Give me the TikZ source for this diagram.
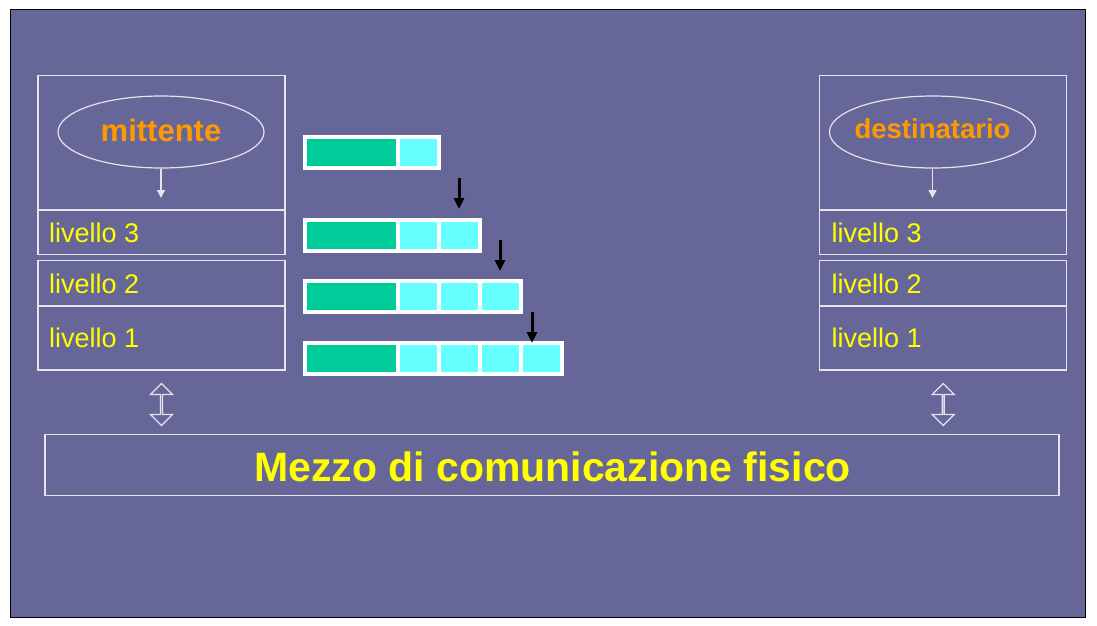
\documentclass[tikz,border=0pt]{standalone}
\usepackage{fontspec}
\setmainfont{Liberation Sans}
\usepackage{xcolor}
\usepackage{tikz}
\usetikzlibrary{arrows.meta, positioning, shapes.geometric, shapes.arrows}
\definecolor{slideBg}{RGB}{102, 102, 153}
\definecolor{frameGray}{RGB}{228, 228, 236}
\definecolor{dataGreen}{RGB}{0, 204, 153}
\definecolor{headCyan}{RGB}{102, 255, 255}
\definecolor{peerOrange}{RGB}{255, 153, 0}
\definecolor{layerYellow}{RGB}{255, 255, 0}

\tikzset{
    layerbox/.style={draw=frameGray, line width=1.4pt},
    layertext/.style={anchor=west, inner sep=0pt, text=layerYellow, font=\fontsize{27}{30}\selectfont},
    peer/.style={ellipse, draw=frameGray, line width=1.2pt, minimum width=206pt, minimum height=72pt, inner sep=0pt},
    peertext/.style={inner sep=0pt, text=peerOrange, font=\bfseries\fontsize{#1}{32}\selectfont},
    downlink/.style={-{Triangle[width=8pt, length=8pt]}, draw=frameGray, fill=frameGray, line width=1.3pt},
    cellbox/.style={draw=white, line width=3.5pt, minimum height=31pt, inner sep=0pt, outer sep=0pt, anchor=north west},
    encap/.style={-{Triangle[width=10pt, length=11pt]}, black, line width=3pt},
    updown/.style={double arrow, draw=frameGray, fill=slideBg, line width=1.3pt, rotate=90, minimum height=42pt, minimum width=22pt, double arrow head extend=7pt, inner sep=0pt}
}

\begin{document}
\begin{tikzpicture}[x=1pt, y=-1pt]
    \useasboundingbox (0,0) rectangle (1097,625);
    % Slide
    \fill[white] (0,0) rectangle (1097,625);
    \draw[fill=slideBg, draw=black, line width=1.5pt] (10.5,9.5) rectangle (1085.5,617.5);

    % Sender stack
    \draw[layerbox] (38,75.5) rectangle (285,210);
    \draw[layerbox] (38,210) rectangle (285,254.5);
    \draw[layerbox] (38,260.5) rectangle (285,306);
    \draw[layerbox] (38,306) rectangle (285,370);
    \node[peer] (mitt) at (161,132) {};
    \node[peertext=31] (mittText) at (161,130) {mittente};
    \coordinate (mittEnd) at (161,198);
    \draw[downlink] (mitt) -- (mittEnd);
    \node[layertext] (mitt3) at (49,233) {livello 3};
    \node[layertext] (mitt2) at (49,284) {livello 2};
    \node[layertext] (mitt1) at (49,337.5) {livello 1};

    % Receiver stack
    \draw[layerbox] (819.5,75.5) rectangle (1066.5,210);
    \draw[layerbox] (819.5,210) rectangle (1066.5,254.5);
    \draw[layerbox] (819.5,260.5) rectangle (1066.5,306);
    \draw[layerbox] (819.5,306) rectangle (1066.5,370);
    \node[peer] (dest) at (932.5,132) {};
    \node[peertext=27.5] (destText) at (932.5,128.5) {destinatario};
    \coordinate (destEnd) at (932.5,198);
    \draw[downlink] (dest) -- (destEnd);
    \node[layertext] (dest3) at (831.5,233) {livello 3};
    \node[layertext] (dest2) at (831.5,284) {livello 2};
    \node[layertext] (dest1) at (831.5,337.5) {livello 1};

    % Physical medium
    \node[draw=frameGray, line width=1.4pt, minimum width=1014pt, minimum height=60.5pt, inner sep=0pt] (medium) at (552,465) {};
    \node[text=layerYellow, inner sep=0pt, font=\bfseries\fontsize{41}{44}\selectfont] (mediumText) at (552.5,466.5) {Mezzo di comunicazione fisico};
    \node[updown] (mittLink) at (161.5,404.5) {};
    \node[updown] (destLink) at (943.3,404.5) {};

    % Packets: data plus one header per layer
    \foreach \r/\ty in {1/137, 2/220, 3/281, 4/343} {
        \node[cellbox, fill=dataGreen, minimum width=93pt] (p\r0) at (305,\ty) {};
        \foreach \c in {1,...,\r} {
            \node[cellbox, fill=headCyan, minimum width=41pt] (p\r\c) at ({398+41*(\c-1)},\ty) {};
        }
    }

    % Header added at each step
    \foreach \i/\ax/\ay in {1/459/178, 2/500/240, 3/532/312} {
        \coordinate (step\i Top) at (\ax,\ay);
        \coordinate (step\i Tip) at (\ax,\ay+31);
        \draw[encap] (step\i Top) -- (step\i Tip);
    }
\end{tikzpicture}
\end{document}
